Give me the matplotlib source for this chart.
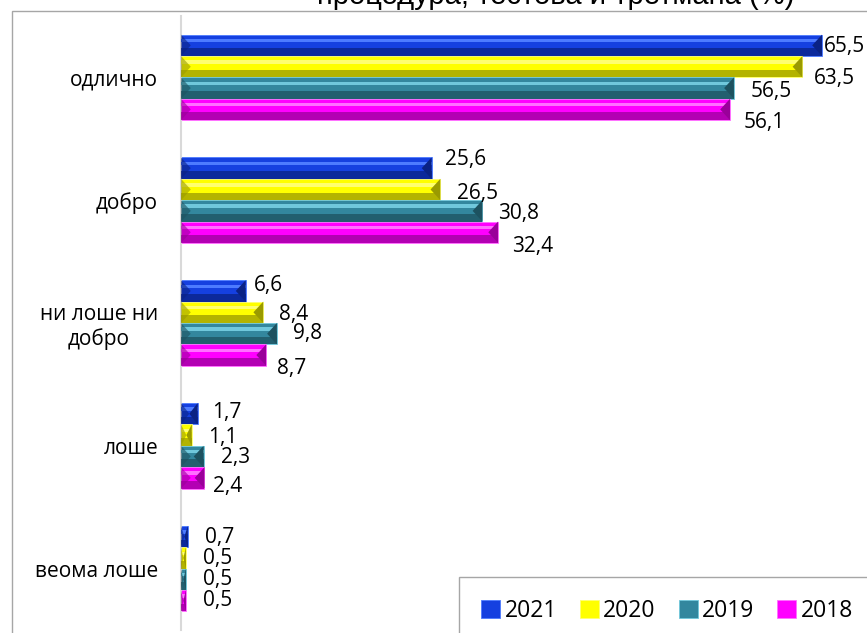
import numpy as np
import matplotlib
matplotlib.use('Agg')
import matplotlib.pyplot as plt
from matplotlib.patches import Rectangle

categories = ['одлично', 'добро', 'ни лоше ни\nдобро', 'лоше', 'веома лоше']
years = ['2021', '2020', '2019', '2018']
v2021 = [65.5, 25.6, 6.6, 1.7, 0.7]
v2020 = [63.5, 26.5, 8.4, 1.1, 0.5]
v2019 = [56.5, 30.8, 9.8, 2.3, 0.5]
v2018 = [56.1, 32.4, 8.7, 2.4, 0.5]
series = [v2021, v2020, v2019, v2018]
title = 'процедура, тестова и третмана (%)'

# label nudges in pixels (right, down) - Excel labels were dragged around
lab_dx = [[2, 11, 17, 14], [13, 17, 16, 14], [8, 16, 16, 11], [14, 16, 17, 9], [17, 17, 17, 17]]
lab_dy = [[1, 12, 3, 13], [-9, 4, 3, 14], [-5, 2, 0, 13], [-1, 2, 1, 9], [1, 1, 0, 0]]

# (light, base, dark) for the bevel look
shades = [('#4d7bff', '#1540e0', '#0a2284'),
          ('#ffff70', '#ffff00', '#9a9a00'),
          ('#70c8dc', '#33879e', '#1d5260'),
          ('#ff70ff', '#ff00ff', '#9a009a')]

plt.rcParams['font.family'] = ['Open Sans', 'DejaVu Sans']
fs = 15

fig = plt.figure(figsize=(8.67, 6.33), dpi=100)
ax = fig.add_axes([181/867, 1-630/633, 1-181/867, (630-16)/633])

y = np.arange(len(categories))
h = 0.174
handles = []
for i, vals in enumerate(series):
    light, base, dark = shades[i]
    yc = y + (i - 1.5) * h
    vals = np.array(vals)
    b = ax.barh(yc, vals, height=h, color=base, edgecolor=light, linewidth=0.6, zorder=2)
    handles.append(b)
    # highlight and shadow bands
    ax.barh(yc - h*0.22, vals, height=h*0.16, color=light, linewidth=0, zorder=3)
    ax.barh(yc + h*0.32, vals, height=h*0.36, color=dark, linewidth=0, alpha=0.75, zorder=3)
    # bevelled end caps
    for v, c in zip(vals, yc):
        d = min(1.0, v/2)
        ax.fill([v, v-d, v], [c-h/2, c, c+h/2], color=dark, lw=0, zorder=4)
        ax.fill([0, d, 0], [c-h/2, c, c+h/2], color=dark, lw=0, alpha=0.6, zorder=4)
    for j, v in enumerate(vals):
        ax.annotate(f'{v:.1f}'.replace('.', ','), xy=(v, yc[j]),
                    xytext=(lab_dx[j][i]*0.72, -lab_dy[j][i]*0.72), textcoords='offset points',
                    ha='left', va='center', fontsize=fs, color='#000000', zorder=5)

ax.set_ylim(len(categories)-0.5, -0.5)
ax.set_xlim(0, (867-181)/9.786)
ax.set_yticks(y)
ax.set_yticklabels(categories, fontsize=fs, multialignment='center')
ax.tick_params(axis='y', length=0, pad=16.5)
ax.set_xticks([])
for s in ['top', 'right', 'bottom']:
    ax.spines[s].set_visible(False)
ax.spines['left'].set_color('#d9d9d9')
ax.spines['left'].set_linewidth(1.5)

# outer chart border (runs off the crop on right/bottom)
fig.add_artist(Rectangle((12/867, -0.1), 2, 1-11/633+0.1, transform=fig.transFigure,
                         fill=False, edgecolor='#a6a6a6', lw=1, zorder=0))

fig.text(556/867, 1-4/633, title, ha='center', va='baseline', fontsize=21,
         family='Liberation Sans')

leg = fig.legend(handles, years, loc='upper left', bbox_to_anchor=(459/867, 1-577/633),
                 ncol=4, frameon=True, fancybox=False, edgecolor='#a6a6a6', framealpha=1,
                 borderaxespad=0, handlelength=0.83, handleheight=0.83, handletextpad=0.2,
                 columnspacing=1.0, borderpad=0.95, fontsize=16.5)
leg.get_frame().set_linewidth(1)

plt.savefig('out.png', dpi=100)
plt.close()
